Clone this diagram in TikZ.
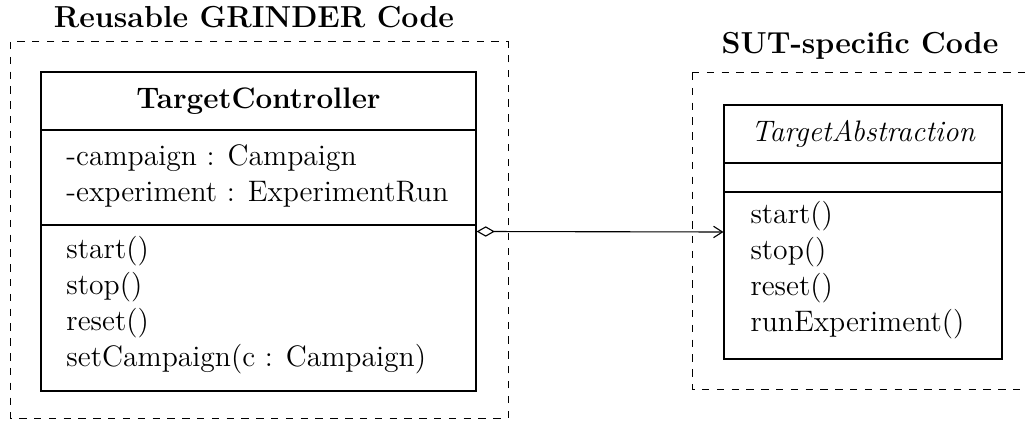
\documentclass[tikz,border=0pt]{standalone}
\usetikzlibrary{arrows.meta,fit}
\begin{document}
\begin{tikzpicture}[x=0.405pt,y=-0.405pt,
    every node/.style={font=\fontsize{12}{14.5}\selectfont},
    region/.style={draw,dashed,line width=0.4pt},
    regiontitle/.style={font=\fontsize{12.3}{15}\selectfont\bfseries},
    classbox/.style={draw,line width=0.45pt,inner sep=0pt},
    compartment/.style={align=left,anchor=west,inner sep=0pt},
    assoc/.style={line width=0.45pt,
      {Diamond[open,length=7.4pt,width=4.2pt]}-{Straight Barb[length=3.6pt,width=4.6pt]}}]
  \useasboundingbox (0,0) rectangle (1025,423);

  % package regions
  \draw[region] (10,42) rectangle (508,418);
  \node[regiontitle] (t1) at (254,17) {Reusable GRINDER Code};
  \draw[region] (692,73) -- (1030,73) (692,73) -- (692,389) -- (1030,389);
  \node[regiontitle] (t2) at (860,46) {SUT-specific Code};

  % class TargetController
  \node[classbox,fit={(41,72) (476,391)}] (tc) {};
  \draw[line width=0.45pt] (41,130) -- (476,130) (41,225) -- (476,225);
  \node[font=\fontsize{12}{14.5}\selectfont\bfseries] (tcname) at (258.5,101) {TargetController};
  \node[compartment] (tcattr) at (66,176) {-campaign : Campaign\\-experiment : ExperimentRun};
  \node[compartment] (tcops) at (66,305) {start()\\stop()\\reset()\\setCampaign(c : Campaign)};

  % class TargetAbstraction
  \node[classbox,fit={(724,105) (1002,359)}] (ta) {};
  \draw[line width=0.45pt] (724,163) -- (1002,163) (724,192) -- (1002,192);
  \node (taname) at (863,134) {\itshape TargetAbstraction};
  \node[compartment] (taops) at (750,270) {start()\\stop()\\reset()\\runExperiment()};

  % aggregation
  \draw[assoc] (tc.east) -- (ta.west);
\end{tikzpicture}
\end{document}
